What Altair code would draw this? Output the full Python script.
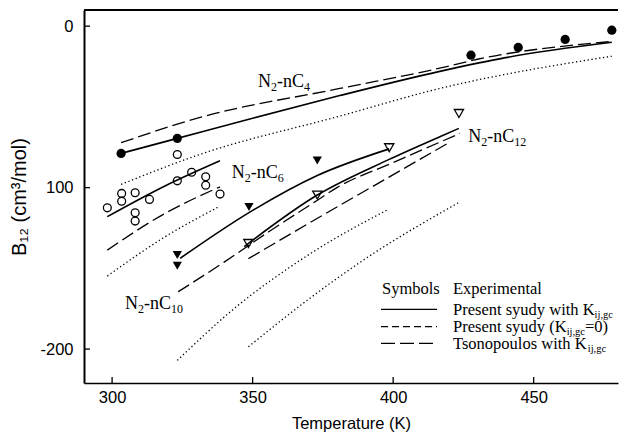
import altair as alt
import pandas as pd

# ---------------- experimental points ----------------
c4_T = [303.2, 323.2, 427.7, 444.5, 461.2, 477.8]
c4_B = [-78.8, -69.5, -18.0, -13.2, -8.2, -2.5]

c6_T = [298.3, 303.4, 303.4, 308.2, 308.2, 308.2, 313.3, 323.2, 323.2, 328.3, 333.3, 333.3, 338.4]
c6_B = [-112.5, -103.6, -108.4, -103.2, -115.6, -120.7, -107.3, -79.5, -95.8, -90.5, -93.3, -98.5, -104.0]

c10_T = [323.2, 323.2, 348.7, 373.0]
c10_B = [-141.8, -148.4, -112.0, -83.2]

c12_T = [348.5, 373.0, 398.6, 423.4]
c12_B = [-134.6, -104.6, -75.3, -54.1]

# ---------------- calculated curves ----------------
c4_solid_T = [303.2, 323.2, 350.0, 381.0, 416.6, 440.0, 477.8]
c4_solid_B = [-78.8, -69.5, -57.0, -43.0, -28.0, -19.5, -10.0]
c4_dash_T = [303.2, 331.3, 381.0, 416.6, 430.0, 477.8]
c4_dash_B = [-72.2, -56.5, -38.6, -26.0, -20.5, -9.5]
c4_dot_T = [303.2, 331.3, 381.0, 416.6, 477.8]
c4_dot_B = [-98.0, -79.4, -55.7, -38.6, -18.6]

c6_solid_T = [298.3, 318.8, 338.4]
c6_solid_B = [-118.0, -99.0, -83.4]
c6_dash_T = [298.3, 318.8, 338.4]
c6_dash_B = [-138.7, -116.0, -99.5]
c6_dot_T = [298.3, 318.8, 337.8]
c6_dot_B = [-154.8, -130.5, -112.0]

c10_solid_T = [324.2, 348.7, 373.0, 398.6]
c10_solid_B = [-143.8, -115.5, -92.5, -76.0]
c10_dash_T = [323.5, 340.0, 356.0, 372.0, 380.0, 400.0, 423.8]
c10_dash_B = [-164.5, -146.0, -127.0, -109.0, -100.0, -84.5, -66.4]
c10_dot_T = [323.2, 342.0, 371.6, 397.7]
c10_dot_B = [-207.0, -177.0, -139.7, -114.0]

c12_solid_T = [347.0, 373.0, 398.6, 416.6, 423.4]
c12_solid_B = [-136.5, -104.6, -82.5, -68.5, -63.3]
c12_dash_T = [348.5, 376.0, 398.0, 419.0]
c12_dash_B = [-144.0, -116.0, -94.0, -73.0]
c12_dot_T = [348.5, 370.0, 389.4, 423.8]
c12_dot_B = [-198.6, -169.0, -144.9, -108.8]

x_ticks = [300, 350, 400, 450]
y_ticks = [0, -100, -200]

curves = [
    ("c4s", "solid", c4_solid_T, c4_solid_B), ("c4d", "dash", c4_dash_T, c4_dash_B), ("c4o", "dot", c4_dot_T, c4_dot_B),
    ("c6s", "solid", c6_solid_T, c6_solid_B), ("c6d", "dash", c6_dash_T, c6_dash_B), ("c6o", "dot", c6_dot_T, c6_dot_B),
    ("c10s", "solid", c10_solid_T, c10_solid_B), ("c10d", "dash", c10_dash_T, c10_dash_B), ("c10o", "dot", c10_dot_T, c10_dot_B),
    ("c12s", "solid", c12_solid_T, c12_solid_B), ("c12d", "dash", c12_dash_T, c12_dash_B), ("c12o", "dot", c12_dot_T, c12_dot_B),
]
rows = []
for name, style, ts, bs in curves:
    for t, b in zip(ts, bs):
        rows.append({"curve": name, "style": style, "T": t, "B": b})
lines = pd.DataFrame(rows)

SANS = "Liberation Sans"
SERIF = "Liberation Serif"

x_enc = alt.X("T:Q", scale=alt.Scale(domain=[290, 480], nice=False, zero=False),
              axis=alt.Axis(values=x_ticks, ticks=False, tickSize=0, grid=False, labelFont=SANS, labelFontSize=16.5,
                            labelColor="black", labelPadding=6, labelFlush=False, domainColor="black",
                            domainWidth=1.5, title="Temperature (K)", titleFont=SANS, titleFontSize=16.5,
                            titleFontWeight="normal", titleColor="black", titlePadding=10))
y_enc = alt.Y("B:Q", scale=alt.Scale(domain=[-221, 10], nice=False, zero=False),
              axis=alt.Axis(values=y_ticks, ticks=False, tickSize=0, grid=False, labelFont=SANS, labelFontSize=16.5,
                            labelColor="black", labelPadding=11, labelFlush=False, domainColor="black",
                            domainWidth=2,
                            labelExpr="datum.value == -100 ? '100' : '' + datum.value",
                            title="B₁₂ (cm³/mol)", titleFont=SANS, titleFontSize=20,
                            titleFontWeight="normal", titleColor="black", titlePadding=10))

layers = []
styles = {"solid": dict(strokeWidth=1.6),
          "dash": dict(strokeWidth=1.3, strokeDash=[13, 5]),
          "dot": dict(strokeWidth=1.3, strokeDash=[1.3, 2.6])}
for st, props in styles.items():
    layers.append(alt.Chart(lines[lines["style"] == st]).mark_line(color="black", interpolate="monotone", **props)
                  .encode(x=x_enc, y=y_enc, detail="curve:N"))

def pts(ts, bs):
    return pd.DataFrame({"T": ts, "B": bs})

layers.append(alt.Chart(pts(c4_T, c4_B)).mark_point(shape="circle", filled=True, color="black", size=85, opacity=1)
              .encode(x=x_enc, y=y_enc))
layers.append(alt.Chart(pts(c6_T, c6_B)).mark_point(shape="circle", filled=False, color="black", size=62,
                                                   strokeWidth=1.3, opacity=1)
              .encode(x=x_enc, y=y_enc))
layers.append(alt.Chart(pts(c10_T, c10_B)).mark_point(shape="triangle-down", filled=True, color="black", size=85, opacity=1)
              .encode(x=x_enc, y=y_enc))
layers.append(alt.Chart(pts(c12_T, c12_B)).mark_point(shape="triangle-down", filled=False, color="black", size=85,
                                                     strokeWidth=1.3, opacity=1)
              .encode(x=x_enc, y=y_enc))

# inward ticks and top frame
one = pd.DataFrame({"k": [0]})
layers.append(alt.Chart(pd.DataFrame({"T": x_ticks})).mark_rule(color="black", strokeWidth=1.3)
              .encode(x=x_enc, y=alt.value(373), y2=alt.value(367)))
layers.append(alt.Chart(pd.DataFrame({"B": y_ticks})).mark_rule(color="black", strokeWidth=1.3)
              .encode(y=y_enc, x=alt.value(0), x2=alt.value(6)))
layers.append(alt.Chart(one).mark_rule(color="black", strokeWidth=2.2)
              .encode(x=alt.value(0), x2=alt.value(534), y=alt.value(0)))

# Times-like widths (per 1000 em)
W = {'N': 722, '-': 333, 'n': 500, 'C': 667, '0': 500, '1': 500, '2': 500, '4': 500, '6': 500, 'P': 556,
     'r': 333, 'e': 444, 's': 389, 't': 278, ' ': 250, 'y': 500, 'u': 500, 'd': 500, 'w': 722, 'i': 278,
     'h': 500, 'K': 722, '(': 333, ')': 333, '=': 564, 'T': 611, 'o': 500, 'p': 500, 'l': 278, 'j': 278,
     ',': 250, 'g': 500, 'c': 444, 'S': 556, 'm': 778, 'b': 500, 'E': 611, 'x': 500, 'a': 444}

def rich(df, xe, ye, pieces, size, subsize, sub_dy):
    out = []
    dx = 0.0
    for txt, is_sub in pieces:
        fs = subsize if is_sub else size
        out.append(alt.Chart(df).mark_text(align="left", baseline="alphabetic", font=SERIF, fontSize=fs,
                                           dx=dx, dy=sub_dy if is_sub else 0, color="black")
                   .encode(x=xe, y=ye, text=alt.value(txt)))
        dx += sum(W.get(c, 500) for c in txt) * fs / 1000.0
    return out

# curve labels (anchored in data space)
label_T = [351.9, 342.6, 304.6, 426.7]
label_B = [-37.8, -94.0, -175.2, -71.8]
label_n = ["4", "6", "10", "12"]
for t, b, n in zip(label_T, label_B, label_n):
    layers += rich(pts([t], [b]), x_enc, y_enc,
                   [("N", False), ("2", True), ("-nC", False), (n, True)], 18, 12, 4)

# legend (pixel positions inside the plot area)
lx_text = 369
layers += rich(one, alt.value(298), alt.value(284), [("Symbols", False)], 16.5, 10.5, 3)
layers += rich(one, alt.value(lx_text), alt.value(284), [("Experimental", False)], 16.5, 10.5, 3)
layers += rich(one, alt.value(lx_text), alt.value(304.5),
               [("Present syudy with K", False), ("ij,gc", True)], 16.5, 10.5, 3)
layers += rich(one, alt.value(lx_text), alt.value(322),
               [("Present syudy (K", False), ("ij,gc", True), ("=0)", False)], 16.5, 10.5, 3)
layers += rich(one, alt.value(lx_text), alt.value(339),
               [("Tsonopoulos with K", False), ("ij,gc", True)], 16.5, 10.5, 3)
leg_y = [299.3, 316.7, 333.3]
leg_dash = [None, [7, 4], [14, 5]]
for yy, dd in zip(leg_y, leg_dash):
    kw = dict(color="black", strokeWidth=1.3)
    if dd is not None:
        kw["strokeDash"] = dd
    layers.append(alt.Chart(one).mark_rule(**kw)
                  .encode(x=alt.value(297), x2=alt.value(353), y=alt.value(yy)))

chart = alt.layer(*layers).properties(
    width=534, height=373,
    autosize=alt.AutoSizeParams(type="none"),
    padding={"left": 84, "top": 10, "right": 19, "bottom": 56},
    background="white",
).configure_view(strokeWidth=0)

chart.save("out.html", embed_options={"renderer": "svg", "actions": False})
